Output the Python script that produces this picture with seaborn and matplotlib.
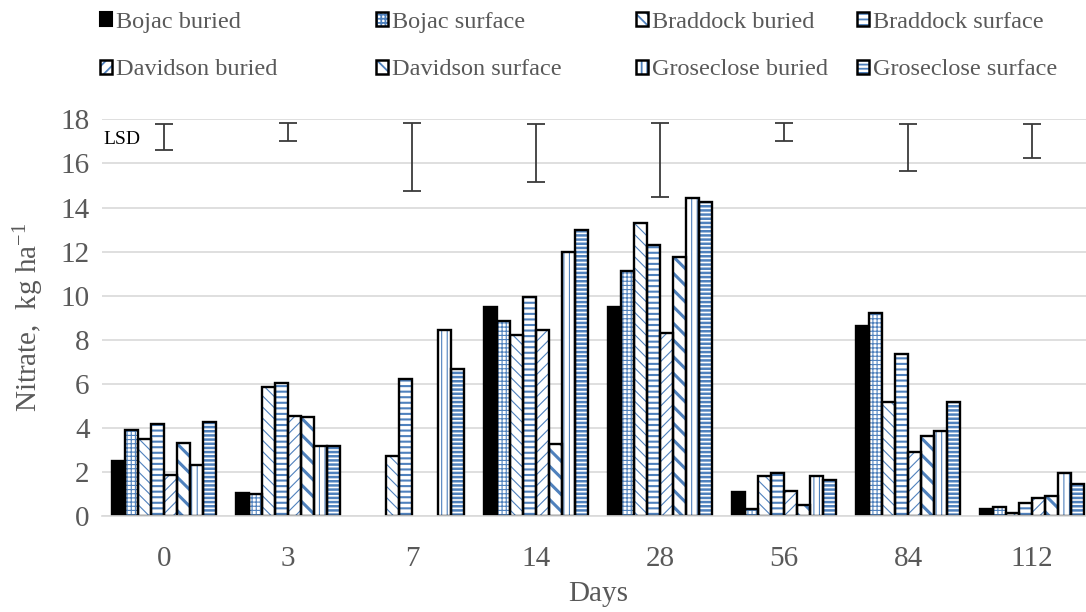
import numpy as np
import pandas as pd
import matplotlib
matplotlib.use("Agg")
import matplotlib.pyplot as plt
import seaborn as sns
from matplotlib.patches import Patch
from matplotlib.legend_handler import HandlerTuple

nan = np.nan
days = ["0", "3", "7", "14", "28", "56", "84", "112"]
series = ["Bojac buried", "Bojac surface", "Braddock buried", "Braddock surface",
          "Davidson buried", "Davidson surface", "Groseclose buried", "Groseclose surface"]

bojac_buried = [2.5, 1.05, nan, 9.5, 9.5, 1.06, 8.6, 0.3]
bojac_surface = [3.9, 0.97, nan, 8.85, 11.1, 0.32, 9.2, 0.38]
braddock_buried = [3.5, 5.85, 2.7, 8.2, 13.3, 1.78, 5.15, 0.11]
braddock_surface = [4.15, 6.05, 6.22, 9.92, 12.28, 1.92, 7.35, 0.56]
davidson_buried = [1.85, 4.55, nan, 8.45, 8.3, 1.14, 2.87, 0.79]
davidson_surface = [3.32, 4.47, nan, 3.27, 11.75, 0.5, 3.6, 0.91]
groseclose_buried = [2.3, 3.18, 8.45, 12.0, 14.45, 1.78, 3.85, 1.92]
groseclose_surface = [4.25, 3.18, 6.65, 13.0, 14.25, 1.6, 5.17, 1.44]

lsd_top = [17.8, 17.86, 17.86, 17.8, 17.86, 17.86, 17.8, 17.8]
lsd_bottom = [16.62, 17.0, 14.73, 15.14, 14.49, 17.0, 15.65, 16.23]

values = [bojac_buried, bojac_surface, braddock_buried, braddock_surface,
          davidson_buried, davidson_surface, groseclose_buried, groseclose_surface]

rows = []
for s, vals in zip(series, values):
    for d, v in zip(days, vals):
        rows.append({"Days": d, "Nitrate": v, "Series": s})
df = pd.DataFrame(rows)

sns.set_theme(style="white")
plt.rcParams["font.family"] = ["Liberation Serif", "DejaVu Serif"]
plt.rcParams["mathtext.fontset"] = "custom"
plt.rcParams["mathtext.rm"] = "Liberation Serif"
plt.rcParams["mathtext.it"] = "Liberation Serif:italic"
plt.rcParams["hatch.linewidth"] = 1.3

BLUE = "#4F81BD"
GRAY = "#595959"
hatches = [None, "++++", "\\\\\\", "---", "///", "\\\\", "|||", "----"]
hatch_lw = [1.0, 0.8, 0.8, 1.5, 0.8, 2.2, 0.8, 1.8]

fig = plt.figure(figsize=(10.86, 6.12), dpi=100)
ax = fig.add_axes([0.094, 0.1574, 0.9134, 0.6474])

bw = 0.845
sns.barplot(data=df, x="Days", y="Nitrate", hue="Series", order=days, hue_order=series,
            palette=["white"] * 8, width=bw, gap=0, ax=ax, legend=False, errorbar=None)
for i, cont in enumerate(ax.containers):
    for p in cont.patches:
        if i == 0:
            p.set_facecolor("black")
            p.set_edgecolor("black")
            p.set_linewidth(0)
        else:
            p.set_facecolor("white")
            p.set_edgecolor(BLUE)
            p.set_hatch(hatches[i])
            p.set_linewidth(0)
            if hasattr(p, "set_hatch_linewidth"):
                p.set_hatch_linewidth(hatch_lw[i])

sns.barplot(data=df, x="Days", y="Nitrate", hue="Series", order=days, hue_order=series,
            palette=["black"] * 8, fill=False, linewidth=1.7, width=bw, gap=0, ax=ax,
            legend=False, errorbar=None)

# LSD bars
mid = [(t + b) / 2 for t, b in zip(lsd_top, lsd_bottom)]
half = [(t - b) / 2 for t, b in zip(lsd_top, lsd_bottom)]
ax.errorbar(x=np.arange(len(days)), y=mid, yerr=half, fmt="none", ecolor="#3a3a3a",
            elinewidth=1.3, capsize=6.5, capthick=1.3, zorder=5)
ax.text(-0.49, 17.1, "LSD", fontsize=14, color="black", va="center", ha="left")

ax.set_ylim(0, 18)
ax.set_xlim(-0.5, len(days) - 0.5)
ax.set_yticks(np.arange(0, 19, 2))
ax.yaxis.grid(True, color="#d9d9d9", linewidth=1.2)
ax.set_axisbelow(True)
for side in ["top", "right", "left"]:
    ax.spines[side].set_visible(False)
ax.spines["bottom"].set_color("#d9d9d9")
ax.spines["bottom"].set_linewidth(1.2)
ax.tick_params(axis="both", length=0, labelsize=21, labelcolor=GRAY)
ax.tick_params(axis="y", pad=9)
ax.tick_params(axis="x", pad=22)
ax.set_xlabel("Days", fontsize=21, color=GRAY, labelpad=6)
ax.set_ylabel(r"Nitrate,  kg ha$^{\mathregular{-1}}$", fontsize=21, color=GRAY, labelpad=10)

handles = []
for i in range(8):
    if i == 0:
        handles.append(Patch(facecolor="black", edgecolor="black", linewidth=1.5))
    else:
        h1 = Patch(facecolor="white", edgecolor=BLUE, hatch=hatches[i], linewidth=0)
        h2 = Patch(fill=False, edgecolor="black", linewidth=1.8)
        handles.append((h1, h2))

# four single-column legends, each holding one column of the 2x4 layout
col_x = [100, 376, 636, 857]
for c in range(4):
    idx = [c, c + 4]
    leg = fig.legend([handles[k] for k in idx], [series[k] for k in idx],
                     loc="upper left", bbox_to_anchor=(col_x[c] / 1086, 0.981), ncol=1,
                     frameon=False, fontsize=17.5, handlelength=0.5, handleheight=0.5,
                     handletextpad=0.15, labelspacing=1.1,
                     borderpad=0, borderaxespad=0,
                     handler_map={tuple: HandlerTuple(ndivide=1, pad=0)})
    for t in leg.get_texts():
        t.set_color(GRAY)

fig.savefig("out.png", dpi=100)
